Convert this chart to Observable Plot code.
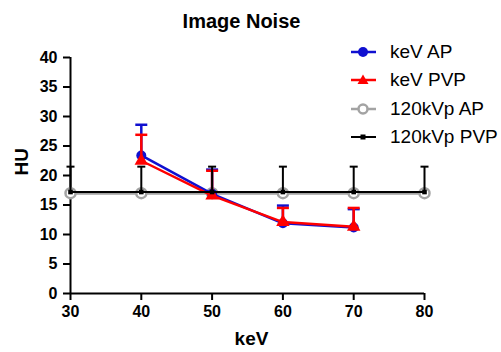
<!DOCTYPE html>
<html><head><meta charset="utf-8">
<script src="https://cdn.jsdelivr.net/npm/d3@7"></script>
<script src="https://cdn.jsdelivr.net/npm/@observablehq/plot@0.6"></script>
<style>
body{margin:0;background:#fff;font-family:Arial,"Liberation Sans",sans-serif;}
#wrap{position:relative;width:501px;height:352px;overflow:hidden;}
#legend{position:absolute;left:350px;top:38px;}
.row{display:flex;align-items:center;height:28.3px;font-size:19px;color:#000;white-space:nowrap;}
.row svg{margin-right:13px;}
</style></head><body>
<div id="wrap"><div id="chart"></div><div id="legend"></div></div>
<script>
// Data
const kev = [40, 50, 60, 70];
const kevAP = [23.4, 16.9, 11.9, 11.2];
const kevAPUpper = [28.6, 21.0, 14.9, 14.3];
const kevPVP = [22.5, 16.6, 12.1, 11.3];
const kevPVPUpper = [26.9, 20.8, 14.5, 14.5];
const kvp = [30, 40, 50, 60, 70, 80];
const kvpAP = [17.0, 17.0, 17.0, 17.0, 17.0, 17.0];
const kvpPVP = [17.2, 17.2, 17.2, 17.2, 17.2, 17.2];
const kvpPVPUpper = [21.5, 21.5, 21.5, 21.5, 21.5, 21.5];
const xTicks = [30, 40, 50, 60, 70, 80];
const yTicks = [0, 5, 10, 15, 20, 25, 30, 35, 40];
const seriesNames = ["keV AP", "keV PVP", "120kVp AP", "120kVp PVP"];
const colors = ["#1010d0", "#ff0000", "#a3a3a3", "#000000"];

const apRows = kev.map((x, i) => ({x, y: kevAP[i], up: kevAPUpper[i]}));
const pvpRows = kev.map((x, i) => ({x, y: kevPVP[i], up: kevPVPUpper[i]}));
const kvpAPRows = kvp.map((x, i) => ({x, y: kvpAP[i]}));
const kvpPVPRows = kvp.map((x, i) => ({x, y: kvpPVP[i], up: kvpPVPUpper[i]}));

const cap = {draw(ctx, size) { const r = Math.sqrt(size / Math.PI); ctx.moveTo(-r, 0); ctx.lineTo(r, 0); }};

function errorBars(rows, color, w, capR) {
  return [
    Plot.ruleX(rows, {x: "x", y1: "y", y2: "up", stroke: color, strokeWidth: w}),
    Plot.dot(rows, {x: "x", y: "up", symbol: cap, r: capR, stroke: color, strokeWidth: w})
  ];
}

const chart = Plot.plot({
  width: 501, height: 352,
  marginLeft: 70, marginRight: 77, marginTop: 57, marginBottom: 59,
  x: {domain: [xTicks[0], xTicks[xTicks.length - 1]], axis: null},
  y: {domain: [yTicks[0], yTicks[yTicks.length - 1]], axis: null},
  style: {fontFamily: "Arial, 'Liberation Sans', sans-serif", fontWeight: "bold", color: "#000", background: "#fff", overflow: "visible"},
  marks: [
    Plot.axisY({ticks: yTicks, tickSize: 7, tickPadding: 6, fontSize: 16, strokeWidth: 2, label: null}),
    Plot.axisX({ticks: xTicks, tickSize: 7, tickPadding: 5, fontSize: 16, strokeWidth: 2, label: null}),
    Plot.ruleX([xTicks[0]], {y1: yTicks[0], y2: yTicks[yTicks.length - 1], strokeWidth: 2}),
    Plot.ruleY([yTicks[0]], {x1: xTicks[0], x2: xTicks[xTicks.length - 1], strokeWidth: 2}),
    // 120kVp AP (gray)
    Plot.line(kvpAPRows, {x: "x", y: "y", stroke: colors[2], strokeWidth: 3}),
    Plot.dot(kvpAPRows, {x: "x", y: "y", r: 5, stroke: colors[2], strokeWidth: 2.5, fill: "white"}),
    // keV AP (blue)
    ...errorBars(apRows, colors[0], 2.5, 6),
    Plot.line(apRows, {x: "x", y: "y", stroke: colors[0], strokeWidth: 2.5}),
    Plot.dot(apRows, {x: "x", y: "y", r: 5, fill: colors[0]}),
    // keV PVP (red)
    ...errorBars(pvpRows, colors[1], 2.5, 6),
    Plot.line(pvpRows, {x: "x", y: "y", stroke: colors[1], strokeWidth: 2.5}),
    Plot.dot(pvpRows, {x: "x", y: "y", r: 5, symbol: "triangle", fill: colors[1]}),
    // 120kVp PVP (black)
    ...errorBars(kvpPVPRows, colors[3], 2, 4),
    Plot.line(kvpPVPRows, {x: "x", y: "y", stroke: colors[3], strokeWidth: 2}),
    Plot.dot(kvpPVPRows, {x: "x", y: "y", r: 2.6, symbol: "square", fill: colors[3]}),
    // texts
    Plot.text(["Image Noise"], {frameAnchor: "top", dx: -6, dy: -30, lineAnchor: "bottom", fontSize: 20, fontWeight: "bold"}),
    Plot.text(["HU"], {frameAnchor: "left", dx: -43, rotate: -90, lineAnchor: "bottom", fontSize: 19, fontWeight: "bold"}),
    Plot.text(["keV"], {frameAnchor: "bottom", dx: 4, dy: 51, lineAnchor: "bottom", fontSize: 19, fontWeight: "bold"})
  ]
});
document.getElementById("chart").appendChild(chart);

// Legend
const legend = document.getElementById("legend");
const sym = [
  '<circle cx="13" cy="8" r="5" fill="COL"/>',
  '<path d="M13,2.5 L18.5,12 L7.5,12 Z" fill="COL"/>',
  '<circle cx="13" cy="8" r="4.5" fill="white" stroke="COL" stroke-width="2.5"/>',
  '<rect x="10.5" y="5.5" width="5" height="5" fill="COL"/>'
];
seriesNames.forEach((name, i) => {
  const row = document.createElement("div");
  row.className = "row";
  row.innerHTML = `<svg width="27" height="16"><line x1="1" x2="26" y1="8" y2="8" stroke="${colors[i]}" stroke-width="${i === 3 ? 2 : 2.5}"/>${sym[i].replace(/COL/g, colors[i])}</svg><span>${name}</span>`;
  legend.appendChild(row);
});
</script>
</body></html>
